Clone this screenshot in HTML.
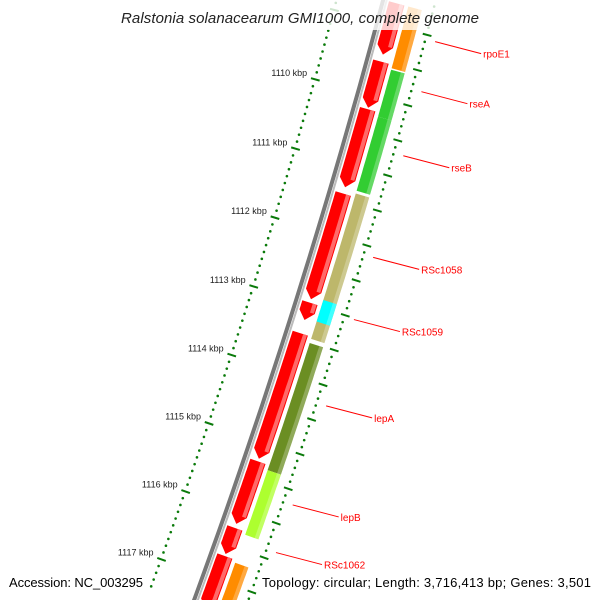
<!DOCTYPE html>
<html><head><meta charset="utf-8"><style>
body{margin:0;background:#fff;overflow:hidden;width:600px;height:600px}
svg{display:block;font-family:"Liberation Sans",sans-serif}
</style></head><body>
<svg id="c" width="600" height="600" viewBox="0 0 600 600">
<g id="rings"></g>
<rect x="0" y="0" width="600" height="30" fill="#fff" opacity="0.8"/>
<text x="300" y="23" text-anchor="middle" font-size="15" font-style="italic" fill="#222" textLength="358">Ralstonia solanacearum GMI1000, complete genome</text>
<text x="9" y="587" font-size="13" fill="#000" textLength="134">Accession: NC_003295</text>
<text x="591" y="587" font-size="13" text-anchor="end" fill="#000" textLength="329">Topology: circular; Length: 3,716,413 bp; Genes: 3,501</text>
</svg>
<script>
const geneStarts=[1108.69,1109.52,1110.20,1111.41,1112.98,1113.42,1115.28,1116.25,1116.66];
const geneEnds=[1109.42,1110.18,1111.32,1112.93,1113.23,1115.24,1116.19,1116.63,1117.44];
const cogStarts=[1108.69,1109.59,1110.26,1111.36,1113.51,1115.35,1116.70,1112.89];
const cogEnds=[1109.57,1110.26,1111.32,1113.45,1115.35,1116.29,1117.44,1113.20];
const cogColors=["#ff8c00","#32cd32","#32cd32","#bdb76b","#6b8e23","#adff2f","#ff8c00","#00ffff"];
const tickLabels=[1110,1111,1112,1113,1114,1115,1116,1117];
const geneLabels=["rpoE1","rseA","rseB","RSc1058","RSc1059","lepA","lepB","RSc1062"];
const geneLabelPos=[1109.06,1109.77,1110.68,1112.13,1113.02,1114.26,1115.69,1116.38];

const NS="http://www.w3.org/2000/svg";
const cx=-6302,cy=-1776,R=6918,th0=Math.atan2(1776,6686);
function ang(k){return th0+(95+(k-1110)*72.5)/R;}
function P(k,off){const t=ang(k),r=R+off;return [cx+r*Math.cos(t),cy+r*Math.sin(t)];}
const g=document.getElementById('rings');
function mk(tag,attrs){const e=document.createElementNS(NS,tag);for(const a in attrs)e.setAttribute(a,attrs[a]);g.appendChild(e);return e;}
function arcPath(k1,k2,off){let d="";const n=30;for(let i=0;i<=n;i++){const p=P(k1+(k2-k1)*i/n,off);d+=(i?"L":"M")+p[0].toFixed(1)+","+p[1].toFixed(1);}return d;}
function band(k1,k2,o1,o2,tip){
  const n=20;let pts=[];const kE=tip?k2-0.12:k2;
  for(let i=0;i<=n;i++)pts.push(P(k1+(kE-k1)*i/n,o2));
  if(tip)pts.push(P(k2,(o1+o2)/2));
  for(let i=n;i>=0;i--)pts.push(P(k1+(kE-k1)*i/n,o1));
  return pts.map(p=>p[0].toFixed(1)+","+p[1].toFixed(1)).join(" ");
}
let bb=mk('path',{d:arcPath(1108.4,1117.6,-1),stroke:"#777","stroke-width":4,fill:"none"});


let bb2=mk('path',{d:arcPath(1108.4,1117.6,2.5),stroke:"#bbb","stroke-width":2,fill:"none"});


for(let k=1108.6;k<=1117.4001;k+=0.1){
  const major=Math.abs(k-Math.round(k))<0.01;
  let e;
  if(major){const a=P(k,-50),b=P(k,-41);e=mk('line',{x1:a[0],y1:a[1],x2:b[0],y2:b[1],stroke:"#0a7a0a","stroke-width":2});}
  else{const a=P(k,-46);e=mk('circle',{cx:a[0],cy:a[1],r:1.3,fill:"#0a7a0a"});}
  
  
}
tickLabels.forEach(v=>{const a=P(v,-54);const t=mk('text',{x:a[0],y:a[1]-1,"font-size":9,"text-anchor":"end",fill:"#222"});t.textContent=v+" kbp";
  
  });
for(let k=1108.6;k<=1117.4001;k+=0.1){
  const half=Math.abs(k*2-Math.round(k*2))<0.02;
  let e;
  if(half){const a=P(k,46),b=P(k,55);e=mk('line',{x1:a[0],y1:a[1],x2:b[0],y2:b[1],stroke:"#0a7a0a","stroke-width":2});}
  else{const a=P(k,50);e=mk('circle',{cx:a[0],cy:a[1],r:1.3,fill:"#0a7a0a"});}
  
  
}
geneStarts.forEach((s,i)=>{
  const e=mk('polygon',{points:band(s,geneEnds[i],5,21,true),fill:"#ff0000"});
  
  
  const h=mk('polygon',{points:band(s,geneEnds[i]-0.12,16,20,false),fill:"#ff6a6a"});
  
  
});
cogStarts.forEach((s,i)=>{
  const e=mk('polygon',{points:band(s,cogEnds[i],25,39,false),fill:cogColors[i]});
  
  
  const h=mk('polygon',{points:band(s,cogEnds[i],35,39,false),fill:"#fff",opacity:0.25});
  
  
});
geneLabels.forEach((n,i)=>{
  const a=P(geneLabelPos[i],60);
  const l=mk('line',{x1:a[0],y1:a[1],x2:a[0]+46,y2:a[1]+12,stroke:"#ff0000","stroke-width":1});
  
  
  const t=mk('text',{x:a[0]+48,y:a[1]+16,"font-size":10,fill:"#ff0000"});t.textContent=n;
  
  
});
</script>
</body></html>
